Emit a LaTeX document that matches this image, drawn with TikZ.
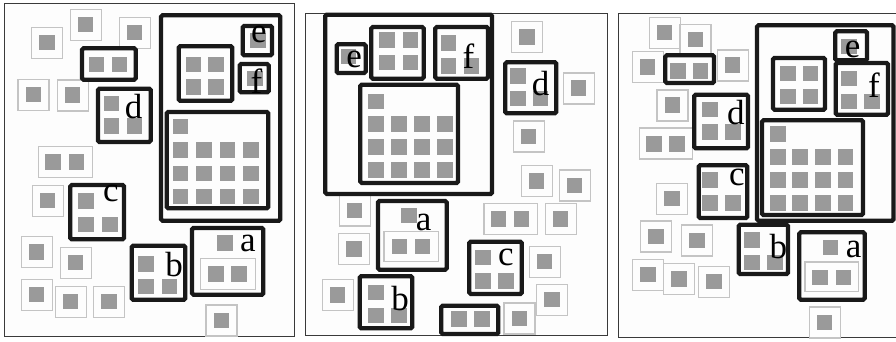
\documentclass[tikz,border=0pt]{standalone}
\usepackage{fontspec}
\setmainfont{Liberation Serif}
\usepackage{xcolor}
\definecolor{sqgray}{HTML}{9A9A9A}
\definecolor{litegray}{HTML}{C4C4C4}
\definecolor{framegray}{HTML}{3A3A3A}
\definecolor{panelbg}{HTML}{FDFDFD}
% gray square, top-left corner given
\newcommand{\gsq}[2]{\fill[graysq] (#1,#2) rectangle ++(15.5,15.5);}
% light box holding one square
\newcommand{\lone}[2]{\draw[litebox] (#1,#2) rectangle ++(31,31); \gsq{#1+7.5}{#2+7.5}}
\begin{document}
\begin{tikzpicture}[
  x=1pt, y=-1pt,
  panel/.style={draw=framegray, fill=panelbg, line width=1pt},
  graysq/.style={fill=sqgray},
  litebox/.style={draw=litegray, line width=1.1pt},
  thickbox/.style={draw=black!90, line width=4.3pt, rounded corners=1.5pt},
  lbl/.style={inner sep=0pt, font=\fontsize{35}{35}\selectfont}
]
  \useasboundingbox (0,0) rectangle (896,342);
  \begin{scope}
  \clip (0,0) rectangle (896,342);
  \draw[panel] (4.5,3.5) rectangle (294.5,336.5);
  \draw[panel] (305.5,13.5) rectangle (607.5,335);
  \draw[panel] (618,14) rectangle (905,337);
  \end{scope}

  % left panel
  \foreach \x/\y in {31.7/27.3, 70.3/9.3, 119.3/17.3, 18/79.3, 57.3/80, 32.3/185.3,
    21.3/236.7, 60.3/247.3, 21.3/279.3, 55.3/286.3, 93.7/286.3, 206/305}
    {\lone{\x}{\y}}
  \draw[litebox] (38.3,146.7) rectangle (92.3,177.7);
  \gsq{45.3}{154.3} \gsq{68.7}{154.3}
  \draw[litebox] (200.3,258.3) rectangle (255.7,289.7);
  \gsq{208.3}{266.3} \gsq{231}{266.3} \gsq{217.3}{235.3}
  \gsq{88.7}{56.7} \gsq{111.7}{56.7}
  \gsq{103.7}{95.7} \gsq{103.7}{118.3} \gsq{126.7}{118.3}
  \gsq{185.7}{56.7} \gsq{208.3}{56.7} \gsq{185.7}{79.3} \gsq{208.3}{79.3}
  \gsq{250}{32.7} \gsq{247}{70.7}
  \gsq{172.7}{118.7}
  \foreach \x in {172.7,196.2,219.7,243.2}
    \foreach \y in {142.3,165.5,188.7} {\gsq{\x}{\y}}
  \gsq{78.3}{193} \gsq{78.3}{216.7} \gsq{102}{216.7}
  \gsq{138.3}{256} \gsq{138.3}{278.7} \gsq{161.7}{278.7}
  \draw[thickbox] (82,48.3) rectangle (135.7,79.7);
  \draw[thickbox] (98,88.7) rectangle (150.7,142);
  \draw[thickbox] (161,15.3) rectangle (280.3,220.7);
  \draw[thickbox] (178.7,46.3) rectangle (232.3,100.7);
  \draw[thickbox] (242.7,26) rectangle (272,55.3);
  \draw[thickbox] (239.7,64) rectangle (268.7,92.3);
  \draw[thickbox] (166.7,112) rectangle (268.3,208.3);
  \draw[thickbox] (70.3,185) rectangle (124,239.3);
  \draw[thickbox] (131.7,245.7) rectangle (185.3,299.7);
  \draw[thickbox] (192,228) rectangle (263.3,294.7);
  \node[lbl] (a1) at (247.8,243.5) {a};
  \node[lbl] (b1) at (174.2,264.3) {b};
  \node[lbl] (c1) at (111,193) {c};
  \node[lbl] (d1) at (133.7,106.7) {d};
  \node[lbl] (e1) at (259,34) {e};
  \node[lbl] (f1) at (256.5,81) {f};

  % middle panel
  \foreach \x/\y in {511.7/21.7, 563.3/73, 513.3/121, 521.3/165.7, 559.3/170, 339.3/195,
    338.7/233.7, 322.3/279.7, 504/303, 545.3/203.7, 529.3/246.3, 536.7/284.3}
    {\lone{\x}{\y}}
  \draw[litebox] (484,203.3) rectangle (537.3,234.3);
  \gsq{490.7}{211.3} \gsq{513.7}{211.3}
  \draw[litebox] (384,231.3) rectangle (438.3,261.7);
  \gsq{391.7}{238.7} \gsq{414.7}{238.7} \gsq{401}{207.7}
  \gsq{340.7}{48.7}
  \gsq{379.3}{32.3} \gsq{402.7}{32.3} \gsq{379.3}{55} \gsq{402.7}{55}
  \gsq{440.7}{35.3} \gsq{440.7}{58.3} \gsq{463.7}{58.3}
  \gsq{368.3}{93.7}
  \foreach \x in {368.3,391,414,437}
    \foreach \y in {116,139,162.3} {\gsq{\x}{\y}}
  \gsq{510}{68.3} \gsq{510}{90.7} \gsq{532.7}{90.7}
  \gsq{368.3}{284.7} \gsq{368.3}{307.7} \gsq{391}{307.7}
  \gsq{451.3}{311.3} \gsq{474}{311.3}
  \gsq{475}{249.7} \gsq{475}{273} \gsq{498}{273}
  \draw[thickbox] (325.3,14.7) rectangle (492,194);
  \draw[thickbox] (336.7,44.3) rectangle (365.7,73);
  \draw[thickbox] (371.3,27) rectangle (423.7,78.7);
  \draw[thickbox] (435.3,27) rectangle (488,78.7);
  \draw[thickbox] (360.3,84.7) rectangle (458,183);
  \draw[thickbox] (505.3,62.3) rectangle (556.3,113.3);
  \draw[thickbox] (378,201) rectangle (446.7,269.7);
  \draw[thickbox] (359.7,276.3) rectangle (412.3,328.3);
  \draw[thickbox] (441.3,305.7) rectangle (498.3,334);
  \draw[thickbox] (469.3,241.7) rectangle (521.7,294);
  \node[lbl] (a2) at (423.7,222) {a};
  \node[lbl] (b2) at (400,298.5) {b};
  \node[lbl] (c2) at (505.8,257.2) {c};
  \node[lbl] (d2) at (540.5,84) {d};
  \node[lbl] (e2) at (354.2,59.5) {e};
  \node[lbl] (f2) at (468.5,56) {f};

  % right panel
  \foreach \x/\y in {649.3/17.3, 680/24.3, 632.3/51.7, 717.3/50, 657/90, 656.7/183.3,
    640.7/221, 681.7/225, 632.7/259.3, 663.7/263.7, 698.7/266.3, 809.3/307}
    {\lone{\x}{\y}}
  \draw[litebox] (639.3,128) rectangle (692.3,159);
  \gsq{646.3}{136} \gsq{669.3}{136}
  \draw[litebox] (805,262) rectangle (858.3,291.7);
  \gsq{812.3}{269.7} \gsq{835.7}{269.7} \gsq{822.7}{239.7}
  \gsq{670}{63.3} \gsq{692.7}{63.3}
  \gsq{702.3}{102} \gsq{702.3}{124.3} \gsq{725}{124.3}
  \gsq{702}{172} \gsq{702}{195} \gsq{725}{195}
  \gsq{780}{66} \gsq{802.7}{66} \gsq{780}{89} \gsq{802.7}{89}
  \gsq{841}{39}
  \gsq{841}{70.7} \gsq{841}{94} \gsq{864}{94}
  \gsq{770}{126}
  \foreach \x in {770,792.3,815,837.7}
    \foreach \y in {149.3,172,195} {\gsq{\x}{\y}}
  \gsq{744.3}{232} \gsq{744.3}{254.7} \gsq{767}{254.7}
  \draw[thickbox] (665.3,55.3) rectangle (714,83);
  \draw[thickbox] (694.3,94.7) rectangle (748,148.3);
  \draw[thickbox] (698.7,165.3) rectangle (747.3,218);
  \draw[thickbox] (757,25.3) rectangle (893.5,220.7);
  \draw[thickbox] (773,58) rectangle (825,109.7);
  \draw[thickbox] (835.3,31.3) rectangle (867,60.3);
  \draw[thickbox] (835.7,63) rectangle (888,114.7);
  \draw[thickbox] (762,120.3) rectangle (863,215);
  \draw[thickbox] (738.7,224.7) rectangle (788,274);
  \draw[thickbox] (799.3,232.3) rectangle (864.7,299.7);
  \node[lbl] (a3) at (853.7,249) {a};
  \node[lbl] (b3) at (778.3,246.8) {b};
  \node[lbl] (c3) at (737,177.5) {c};
  \node[lbl] (d3) at (735.8,112.5) {d};
  \node[lbl] (e3) at (852.7,49) {e};
  \node[lbl] (f3) at (874,85) {f};
\end{tikzpicture}
\end{document}
